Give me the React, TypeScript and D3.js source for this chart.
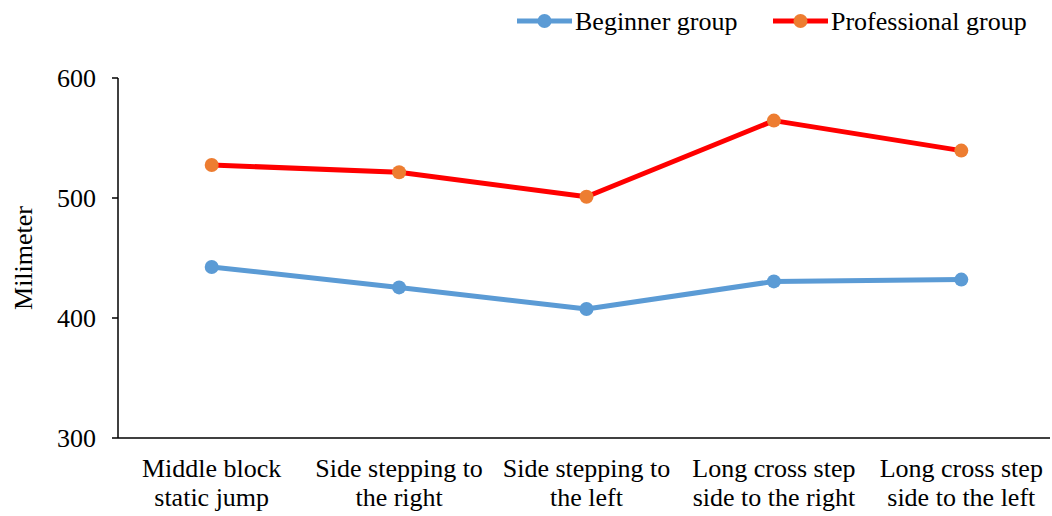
import React, { useEffect, useRef } from "react";
import * as d3 from "d3";

const categories: string[][] = [
  ["Middle block", "static jump"],
  ["Side stepping to", "the right"],
  ["Side stepping to", "the left"],
  ["Long cross step", "side to the right"],
  ["Long cross step", "side to the left"],
];
const beginnerValues = [442.5, 425.5, 407.5, 430.5, 432];
const professionalValues = [527.5, 521.5, 501, 564.5, 539.5];
const yTicks = [300, 400, 500, 600];
const seriesNames = ["Beginner group", "Professional group"];

const W = 1052;
const H = 516;
const FONT = "'Liberation Serif', 'Times New Roman', serif";
const FS = 26;

export default function App() {
  const ref = useRef<SVGSVGElement | null>(null);

  useEffect(() => {
    const svg = d3.select(ref.current);
    svg.selectAll("*").remove();

    const left = 118, right = 1052, top = 78, bottom = 438;
    const x = d3.scaleBand<number>().domain(d3.range(categories.length)).range([left, right + 3]);
    const y = d3.scaleLinear().domain([300, 600]).range([bottom, top]);
    const cx = (i: number) => (x(i) as number) + x.bandwidth() / 2;

    // y axis
    const yAxis = svg.append("g");
    yAxis.append("line").attr("x1", left).attr("x2", left).attr("y1", top).attr("y2", bottom)
      .attr("stroke", "#000").attr("stroke-width", 1.5);
    yTicks.forEach((t) => {
      yAxis.append("line").attr("x1", left - 6).attr("x2", left).attr("y1", y(t)).attr("y2", y(t))
        .attr("stroke", "#000").attr("stroke-width", 1.5);
      yAxis.append("text").attr("x", 96).attr("y", y(t)).attr("dy", "0.33em")
        .attr("text-anchor", "end").attr("font-family", FONT).attr("font-size", FS).text(String(t));
    });

    // x axis
    svg.append("line").attr("x1", left).attr("x2", 1050).attr("y1", bottom).attr("y2", bottom)
      .attr("stroke", "#000").attr("stroke-width", 1.5);
    categories.forEach((lines, i) => {
      const t = svg.append("text").attr("text-anchor", "middle").attr("font-family", FONT).attr("font-size", FS);
      lines.forEach((ln, j) => {
        t.append("tspan").attr("x", cx(i)).attr("y", 477 + j * 29).text(ln);
      });
    });

    svg.append("text").attr("transform", `translate(32,${(top + bottom) / 2}) rotate(-90)`)
      .attr("text-anchor", "middle").attr("font-family", FONT).attr("font-size", FS).text("Milimeter");

    const line = d3.line<number>().x((_, i) => cx(i)).y((v) => y(v));
    const series = [
      { values: beginnerValues, stroke: "#5B9BD5", fill: "#5B9BD5" },
      { values: professionalValues, stroke: "#FF0000", fill: "#ED7D31" },
    ];
    series.forEach((s) => {
      svg.append("path").attr("d", line(s.values)).attr("fill", "none")
        .attr("stroke", s.stroke).attr("stroke-width", 5).attr("stroke-linejoin", "round");
      svg.selectAll(null).data(s.values).enter().append("circle")
        .attr("cx", (_, i) => cx(i)).attr("cy", (v) => y(v)).attr("r", 7).attr("fill", s.fill);
    });

    // legend
    const legendItems = [
      { x0: 517, name: seriesNames[0], ...series[0] },
      { x0: 773, name: seriesNames[1], ...series[1] },
    ];
    legendItems.forEach((it) => {
      const g = svg.append("g");
      g.append("line").attr("x1", it.x0).attr("x2", it.x0 + 55).attr("y1", 21).attr("y2", 21)
        .attr("stroke", it.stroke).attr("stroke-width", 5);
      g.append("circle").attr("cx", it.x0 + 27.5).attr("cy", 21).attr("r", 7).attr("fill", it.fill);
      g.append("text").attr("x", it.x0 + 58).attr("y", 21).attr("dy", "0.33em")
        .attr("font-family", FONT).attr("font-size", FS).text(it.name);
    });
  }, []);

  return (
    <svg ref={ref} width={W} height={H}
      style={{ position: "absolute", left: 0, top: 0, background: "#fff" }} />
  );
}
